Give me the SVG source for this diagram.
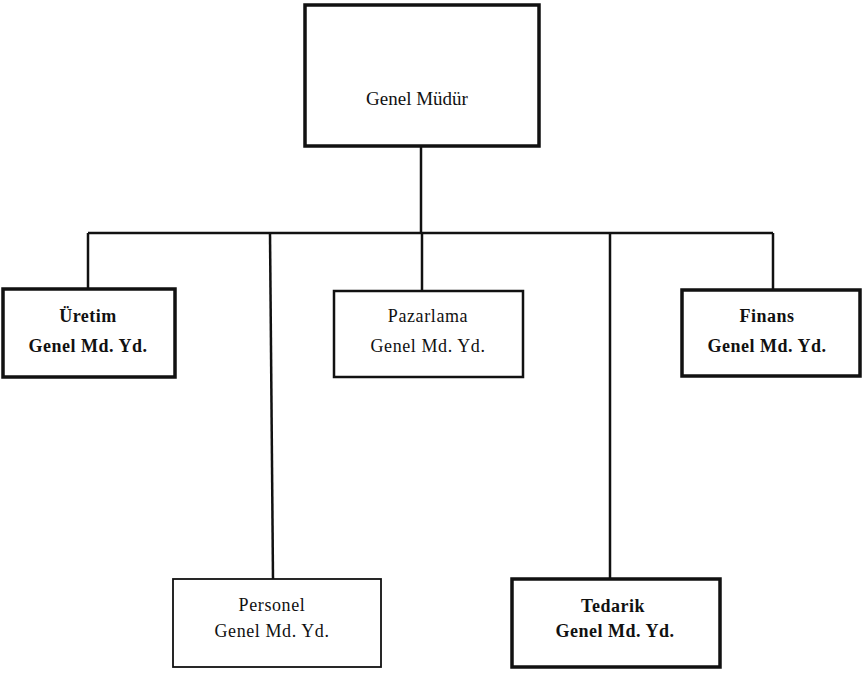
<svg xmlns="http://www.w3.org/2000/svg" width="864" height="673" viewBox="0 0 864 673">
<style>
.box{fill:#fff;stroke:#111;stroke-width:2.5}
.thick{stroke-width:3.5}
.thin{stroke-width:1.8}
.ln{stroke:#111;stroke-width:2.5;fill:none}
text{font-family:"Liberation Serif","Times New Roman",serif;fill:#111;text-anchor:middle}
.r{font-size:18px;letter-spacing:0.6px}
.b{font-size:18px;font-weight:bold;letter-spacing:0.5px}
.top{font-size:19px}
</style>
<rect width="864" height="673" fill="#fff"/>
<g id="connectors">
<path class="ln" d="M421 146V233"/>
<path class="ln" d="M88 233H773"/>
<path class="ln" d="M88 233V289"/>
<path class="ln" d="M270 233L273 579"/>
<path class="ln" d="M422 233V290"/>
<path class="ln" d="M610 233V579"/>
<path class="ln" d="M773 233V290"/>
</g>
<g id="genel-mudur">
<rect class="box thick" x="305" y="5" width="234" height="141"/>
<text class="top" x="417" y="105">Genel Müdür</text>
</g>
<g id="uretim">
<rect class="box thick" x="3" y="289" width="172" height="88"/>
<text class="b" x="88" y="322">Üretim</text>
<text class="b" x="88" y="352">Genel Md. Yd.</text>
</g>
<g id="pazarlama">
<rect class="box" x="334" y="291" width="189" height="86"/>
<text class="r" x="428" y="322">Pazarlama</text>
<text class="r" x="428" y="352">Genel Md. Yd.</text>
</g>
<g id="finans">
<rect class="box thick" x="682" y="290" width="178" height="86"/>
<text class="b" x="767" y="322">Finans</text>
<text class="b" x="767" y="352">Genel Md. Yd.</text>
</g>
<g id="personel">
<rect class="box thin" x="173" y="579" width="208" height="88"/>
<text class="r" x="272" y="611">Personel</text>
<text class="r" x="272" y="637">Genel Md. Yd.</text>
</g>
<g id="tedarik">
<rect class="box thick" x="512" y="579" width="208" height="88"/>
<text class="b" x="613" y="612">Tedarik</text>
<text class="b" x="615" y="637">Genel Md. Yd.</text>
</g>
</svg>
